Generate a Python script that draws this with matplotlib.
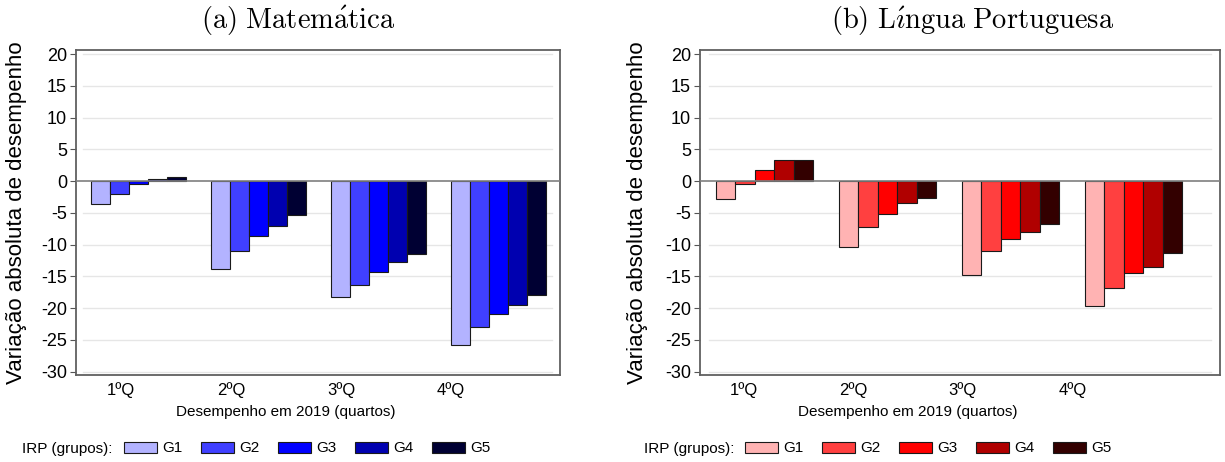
import numpy as np
import matplotlib
matplotlib.use("Agg")
import matplotlib.pyplot as plt

plt.rcParams['font.family'] = ['Liberation Sans', 'DejaVu Sans']
plt.rcParams['mathtext.fontset'] = 'cm'
plt.rcParams['axes.unicode_minus'] = False

# --- data ---
quartos = ['1ºQ', '2ºQ', '3ºQ', '4ºQ']
grupos = ['G1', 'G2', 'G3', 'G4', 'G5']
yticks = [-30, -25, -20, -15, -10, -5, 0, 5, 10, 15, 20]

# (a) Matemática
mat_g1 = [-3.7, -13.9, -18.2, -25.9]
mat_g2 = [-2.1, -11.1, -16.3, -23.0]
mat_g3 = [-0.5, -8.6, -14.4, -21.0]
mat_g4 = [0.35, -7.1, -12.7, -19.6]
mat_g5 = [0.6, -5.3, -11.5, -17.9]

# (b) Língua Portuguesa
por_g1 = [-2.8, -10.35, -14.85, -19.7]
por_g2 = [-0.5, -7.3, -11.1, -16.9]
por_g3 = [1.7, -5.15, -9.2, -14.55]
por_g4 = [3.3, -3.5, -8.0, -13.5]
por_g5 = [3.25, -2.6, -6.8, -11.4]

cores_azul = ['#b3b3ff', '#4040ff', '#0000ff', '#0000b0', '#000033']
cores_verm = ['#ffb3b3', '#ff4040', '#ff0000', '#b00000', '#330000']

W, H = 1225, 462
fig = plt.figure(figsize=(W / 100, H / 100), dpi=100)


def px_rect(x0, x1, y_top, y_bot):
    return [x0 / W, (H - y_bot) / H, (x1 - x0) / W, (y_bot - y_top) / H]


def draw_panel(rect, series, cores, xlim, tick0, tickstep, grid_span):
    ax = fig.add_axes(rect)
    largura = 0.1575
    xs = np.arange(len(quartos))
    bars = []
    for j, vals in enumerate(series):
        b = ax.bar(xs + (j - 2) * largura, vals, width=largura, color=cores[j],
                   edgecolor='#1a1a1a', linewidth=0.8, label=grupos[j], zorder=2)
        bars.append(b)
    ax.set_xlim(*xlim)
    ax.set_ylim(-30.55, 20.63)
    for y in yticks:
        if y == 0:
            continue
        ax.axhline(y, xmin=grid_span[0], xmax=grid_span[1], color='#e6e6e6',
                   linewidth=1.0, zorder=0)
    ax.axhline(0, color='#7f7f7f', linewidth=1.2, zorder=3)

    ax.set_yticks(yticks)
    ax.set_yticklabels([str(v) for v in yticks])
    ax.tick_params(axis='y', direction='out', length=4.5, width=0.8,
                   color='#555555', labelsize=13, pad=2)
    xt = tick0 + tickstep * np.arange(len(quartos))
    ax.set_xticks(xt)
    ax.set_xticklabels(quartos)
    ax.tick_params(axis='x', length=0, labelsize=12, pad=5)
    for s in ax.spines.values():
        s.set_color('#606060')
        s.set_linewidth(1.3)

    ax.set_ylabel('Variação absoluta de desempenho', fontsize=16)
    ax.set_xlabel('Desempenho em 2019 (quartos)', fontsize=11)
    xfrac = (xt.mean() - xlim[0]) / (xlim[1] - xlim[0])
    ax.xaxis.set_label_coords(xfrac, -0.093)
    return ax, bars


ax1, bars1 = draw_panel(px_rect(76, 560, 50, 375),
                        [mat_g1, mat_g2, mat_g3, mat_g4, mat_g5], cores_azul,
                        (-0.521, 3.5125), -0.146, 0.917, (0.0145, 0.983))
ax1.yaxis.set_label_coords(-0.101, 0.5)

ax2, bars2 = draw_panel(px_rect(700, 1220, 50, 375),
                        [por_g1, por_g2, por_g3, por_g4, por_g5], cores_verm,
                        (-0.524, 3.703), -0.167, 0.89, (0.017, 0.983))
ax2.yaxis.set_label_coords(-0.1, 0.5)

# titles (serif, LaTeX-like)
fig.text(298 / W, (H - 21) / H, r'$\mathrm{(a)\ Matem\acute{a}tica}$',
         ha='center', va='center', fontsize=20.5)
fig.text(973 / W, (H - 21) / H, r'$\mathrm{(b)\ L\acute{\imath}ngua\ Portuguesa}$',
         ha='center', va='center', fontsize=20.5)

# legends
for bars, x_txt, x_leg, colsp in [(bars1, 22, 124, 1.22), (bars2, 644, 745, 1.22)]:
    fig.text(x_txt / W, 13.5 / H, 'IRP (grupos):', ha='left', va='center',
             fontsize=11)
    fig.legend(handles=bars, labels=grupos, loc='center left',
               bbox_to_anchor=(x_leg / W, 13.5 / H), ncol=5, frameon=False,
               fontsize=11, handlelength=2.15, handleheight=0.75,
               handletextpad=0.35, columnspacing=colsp, borderpad=0,
               borderaxespad=0)

fig.savefig('out.png', dpi=100)
